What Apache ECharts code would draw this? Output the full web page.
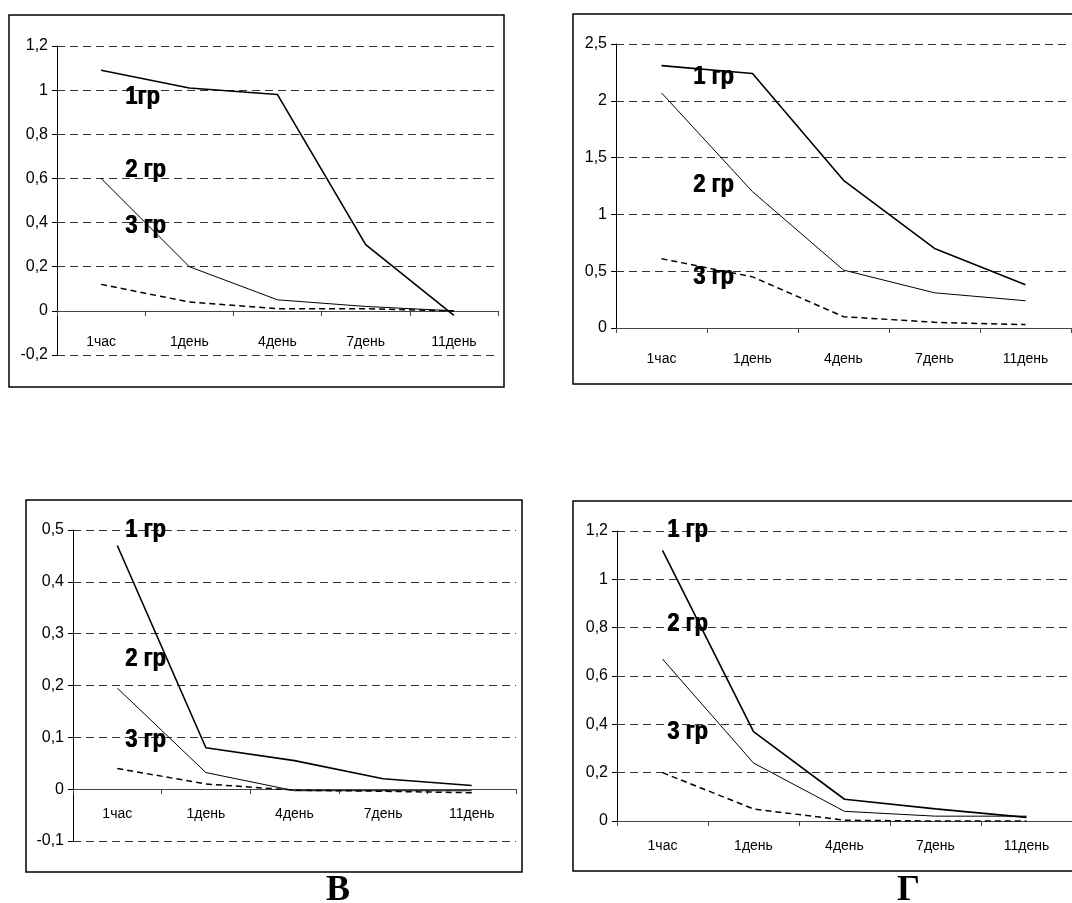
<!DOCTYPE html>
<html lang="ru">
<head>
  <meta charset="UTF-8">
  <title>Группы 1-3, динамика</title>
  <script src="https://cdn.jsdelivr.net/npm/echarts@6/dist/echarts.min.js"></script>
  <style>
    html, body { margin: 0; padding: 0; background: #fff; }
    #chart { width: 1072px; height: 903px; }
  </style>
</head>
<body>
<div id="chart"></div>
<script>
  // категории по оси X
  var days = ['1час', '1день', '4день', '7день', '11день'];

  // панель А (верх слева)
  var a1 = [1.09, 1.01, 0.98, 0.30, -0.02];
  var a2 = [0.60, 0.20, 0.05, 0.02, 0.00];
  var a3 = [0.12, 0.04, 0.01, 0.01, 0.00];

  // панель Б (верх справа)
  var b1 = [2.31, 2.24, 1.30, 0.70, 0.38];
  var b2 = [2.07, 1.20, 0.51, 0.31, 0.24];
  var b3 = [0.61, 0.45, 0.10, 0.05, 0.03];

  // панель В (низ слева)
  var c1 = [0.47, 0.08, 0.055, 0.02, 0.007];
  var c2 = [0.195, 0.032, -0.003, -0.003, -0.003];
  var c3 = [0.04, 0.01, -0.002, -0.004, -0.007];

  // панель Г (низ справа)
  var d1 = [1.12, 0.37, 0.09, 0.05, 0.015];
  var d2 = [0.67, 0.24, 0.04, 0.02, 0.02];
  var d3 = [0.20, 0.05, 0.003, 0.0, 0.0];

  var groupNamesA = ['1гр', '2 гр', '3 гр'];
  var groupNames = ['1 гр', '2 гр', '3 гр'];
  var panelLetters = ['В', 'Г'];

  var panels = [
    { grid: { left: 57, top: 46, width: 441, height: 309 }, min: -0.2, max: 1.2, step: 0.2, margin: 24, data: [a1, a2, a3] },
    { grid: { left: 616, top: 44, width: 455, height: 284 }, min: 0, max: 2.5, step: 0.5, margin: 24, data: [b1, b2, b3] },
    { grid: { left: 73, top: 530, width: 443, height: 311 }, min: -0.1, max: 0.5, step: 0.1, margin: 18, data: [c1, c2, c3] },
    { grid: { left: 617, top: 531, width: 455, height: 290 }, min: 0, max: 1.2, step: 0.2, margin: 18, data: [d1, d2, d3] }
  ];

  var lineStyles = [
    { color: '#000', width: 1.6, type: 'solid' },
    { color: '#000', width: 1, type: 'solid' },
    { color: '#000', width: 1.5, type: [6, 4] }
  ];

  var grids = [], xAxes = [], yAxes = [], series = [];
  panels.forEach(function (p, i) {
    grids.push(Object.assign({ containLabel: false }, p.grid));
    // ось X проходит через ноль: сдвигаем её вверх от низа сетки
    var zeroShift = p.grid.height * (0 - p.min) / (p.max - p.min);
    xAxes.push({
      type: 'category', gridIndex: i, data: days, boundaryGap: true,
      position: 'bottom', offset: -zeroShift,
      axisLine: { onZero: false, lineStyle: { color: '#444', width: 1 } },
      axisTick: { show: true, length: 5, lineStyle: { color: '#444' } },
      axisLabel: { margin: p.margin, color: '#000', fontSize: 14, fontFamily: 'Liberation Sans' },
      splitLine: { show: false }
    });
    yAxes.push({
      type: 'value', gridIndex: i, min: p.min, max: p.max, interval: p.step,
      axisLine: { show: true, lineStyle: { color: '#000', width: 1 } },
      axisTick: { show: true, length: 5, lineStyle: { color: '#000' } },
      axisLabel: {
        margin: 9, color: '#000', fontSize: 16, fontFamily: 'Liberation Sans',
        formatter: function (v) { return String(Math.round(v * 10) / 10).replace('.', ','); }
      },
      splitLine: { show: true, lineStyle: { color: '#333', width: 1, type: [8, 5] } }
    });
    p.data.forEach(function (vals, k) {
      series.push({
        type: 'line', xAxisIndex: i, yAxisIndex: i, data: vals,
        symbol: 'none', silent: true, z: 5,
        lineStyle: lineStyles[k]
      });
    });
  });

  // подписи групп (дважды со сдвигом — для жирности) и рамки панелей
  var labelFont = 'bold 26px "Liberation Sans", sans-serif';
  var graphics = [];
  function tag(text, x, y) {
    [0, 0.8].forEach(function (dx) {
      graphics.push({
        type: 'text', x: x + dx, y: y, scaleX: 0.84, z: 10,
        style: { text: text, font: labelFont, fill: '#000', verticalAlign: 'middle', textVerticalAlign: 'middle' }
      });
    });
  }
  function frame(x, y, w, h) {
    graphics.push({ type: 'rect', shape: { x: x, y: y, width: w, height: h }, z: 0, style: { fill: 'none', stroke: '#000', lineWidth: 1.5 } });
  }
  frame(9, 15, 495, 372);
  frame(573, 14, 520, 370);
  frame(26, 500, 496, 372);
  frame(573, 501, 520, 370);
  tag(groupNamesA[0], 125, 97); tag(groupNamesA[1], 125, 170); tag(groupNamesA[2], 125, 226);
  tag(groupNames[0], 693, 77); tag(groupNames[1], 693, 185); tag(groupNames[2], 693, 277);
  tag(groupNames[0], 125, 530); tag(groupNames[1], 125, 659); tag(groupNames[2], 125, 740);
  tag(groupNames[0], 667, 530); tag(groupNames[1], 667, 624); tag(groupNames[2], 667, 732);
  graphics.push({ type: 'text', left: 326, top: 873, style: { text: panelLetters[0], font: 'bold 36px "Liberation Serif", serif', fill: '#000' } });
  graphics.push({ type: 'text', left: 897, top: 873, style: { text: panelLetters[1], font: 'bold 36px "Liberation Serif", serif', fill: '#000' } });

  var myChart = echarts.init(document.getElementById('chart'));
  myChart.setOption({
    animation: false,
    backgroundColor: '#fff',
    grid: grids,
    xAxis: xAxes,
    yAxis: yAxes,
    series: series,
    graphic: graphics
  });
</script>
</body>
</html>
